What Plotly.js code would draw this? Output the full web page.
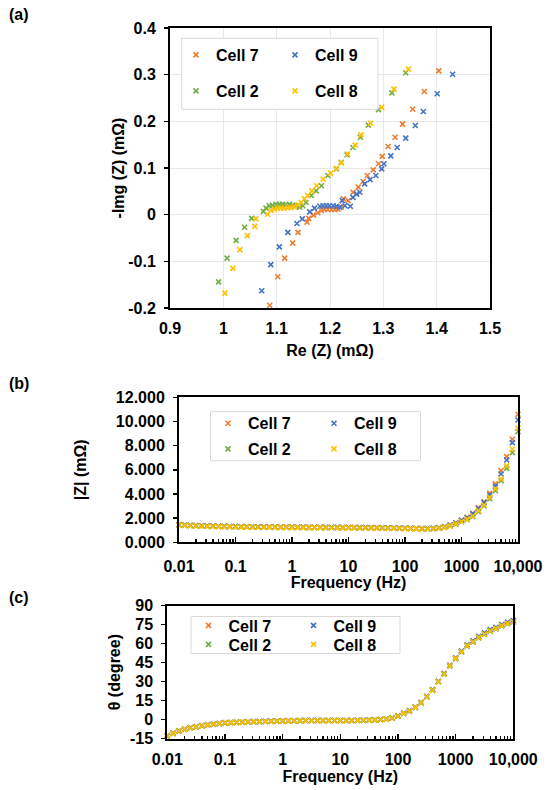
<!DOCTYPE html>
<html>
<head>
<meta charset="utf-8">
<script src="https://cdn.plot.ly/plotly-3.0.1.min.js"></script>
<style>html,body{margin:0;padding:0;background:#fff;}#chart{width:550px;height:790px;}</style>
</head>
<body>
<div id="chart"></div>
<script>
// ---------- DATA ----------
const cellNames = ["Cell 7", "Cell 9", "Cell 2", "Cell 8"];
const cellColors = ["#ED7D31", "#4472C4", "#70AD47", "#FFC000"];

// (a) Nyquist
const re7 = [1.087,1.102,1.115,1.130,1.140,1.157,1.160,1.169,1.177,1.184,1.190,1.196,1.203,1.209,1.215,1.221,1.225,1.234,1.243,1.253,1.262,1.270,1.281,1.291,1.298,1.309,1.322,1.336,1.355,1.377,1.404];
const im7 = [-0.194,-0.133,-0.093,-0.061,-0.038,-0.016,-0.008,-0.001,0.004,0.009,0.011,0.011,0.011,0.011,0.012,0.016,0.034,0.030,0.048,0.059,0.071,0.084,0.096,0.109,0.125,0.146,0.166,0.194,0.226,0.264,0.308];
const re9 = [1.072,1.089,1.105,1.121,1.138,1.148,1.162,1.171,1.181,1.187,1.193,1.199,1.206,1.212,1.218,1.223,1.228,1.238,1.243,1.250,1.256,1.265,1.275,1.286,1.297,1.301,1.314,1.326,1.342,1.360,1.375,1.401,1.430];
const im9 = [-0.163,-0.107,-0.069,-0.038,-0.019,-0.009,0.006,0.014,0.018,0.019,0.019,0.019,0.019,0.018,0.016,0.030,0.019,0.018,0.037,0.044,0.048,0.066,0.075,0.084,0.098,0.109,0.126,0.144,0.164,0.191,0.221,0.259,0.301];
const re2 = [0.991,1.007,1.024,1.040,1.053,1.075,1.080,1.086,1.092,1.099,1.105,1.111,1.117,1.124,1.130,1.136,1.143,1.149,1.155,1.165,1.174,1.184,1.196,1.212,1.221,1.232,1.243,1.257,1.272,1.291,1.316,1.342];
const im2 = [-0.144,-0.093,-0.055,-0.027,-0.008,0.007,0.014,0.019,0.020,0.022,0.022,0.022,0.021,0.022,0.020,0.019,0.016,0.019,0.026,0.041,0.051,0.062,0.084,0.098,0.112,0.128,0.144,0.166,0.192,0.225,0.261,0.304];
const re8 = [1.003,1.018,1.031,1.045,1.059,1.061,1.083,1.089,1.096,1.102,1.108,1.114,1.121,1.127,1.133,1.140,1.146,1.152,1.158,1.166,1.175,1.187,1.201,1.212,1.221,1.233,1.247,1.258,1.276,1.297,1.320,1.347];
const im8 = [-0.168,-0.115,-0.075,-0.045,-0.025,-0.009,0.001,0.009,0.012,0.014,0.014,0.014,0.015,0.015,0.017,0.021,0.026,0.034,0.041,0.051,0.062,0.076,0.089,0.099,0.111,0.130,0.149,0.171,0.196,0.230,0.269,0.312];

// (b), (c) frequency (Hz)
const freq = [0.01,0.0126,0.0158,0.02,0.0251,0.0316,0.0398,0.0501,0.0631,0.0794,
  0.1,0.126,0.158,0.2,0.251,0.316,0.398,0.501,0.631,0.794,
  1,1.26,1.58,2,2.51,3.16,3.98,5.01,6.31,7.94,
  10,12.6,15.8,20,25.1,31.6,39.8,50.1,63.1,79.4,
  100,126,158,200,251,316,398,501,631,794,
  1000,1259,1585,1995,2512,3162,3981,5012,6310,7943,10000];

// |Z| (mΩ)
const z7 = [1.46,1.43,1.41,1.39,1.37,1.36,1.35,1.34,1.33,1.32,
  1.31,1.30,1.30,1.29,1.29,1.28,1.28,1.27,1.27,1.27,
  1.26,1.26,1.26,1.25,1.25,1.25,1.24,1.24,1.24,1.23,
  1.23,1.23,1.22,1.22,1.21,1.21,1.20,1.20,1.19,1.18,
  1.17,1.16,1.15,1.14,1.14,1.16,1.21,1.29,1.43,1.62,
  1.85,2.07,2.40,2.87,3.36,4.05,4.83,5.93,7.09,8.53,10.60];
const z9 = [1.45,1.42,1.40,1.38,1.36,1.35,1.34,1.33,1.32,1.31,
  1.30,1.29,1.29,1.28,1.28,1.27,1.27,1.26,1.26,1.26,
  1.25,1.25,1.25,1.24,1.24,1.24,1.23,1.23,1.23,1.22,
  1.22,1.22,1.21,1.21,1.20,1.20,1.19,1.19,1.18,1.17,
  1.16,1.15,1.14,1.13,1.13,1.15,1.20,1.28,1.42,1.60,
  1.82,2.03,2.35,2.80,3.28,3.91,4.66,5.65,6.81,8.25,10.12];
const z2 = [1.43,1.40,1.38,1.36,1.34,1.33,1.32,1.31,1.30,1.29,
  1.28,1.27,1.27,1.26,1.26,1.25,1.25,1.24,1.24,1.24,
  1.23,1.23,1.23,1.22,1.22,1.22,1.21,1.21,1.21,1.20,
  1.20,1.20,1.19,1.19,1.18,1.18,1.17,1.17,1.16,1.15,
  1.14,1.13,1.12,1.11,1.11,1.11,1.16,1.23,1.35,1.50,
  1.70,1.88,2.12,2.53,3.00,3.58,4.27,5.10,6.12,7.42,9.16];
const z8 = [1.42,1.39,1.37,1.35,1.33,1.32,1.31,1.30,1.29,1.28,
  1.27,1.26,1.26,1.25,1.25,1.24,1.24,1.23,1.23,1.23,
  1.22,1.22,1.22,1.21,1.21,1.21,1.20,1.20,1.20,1.19,
  1.19,1.19,1.18,1.18,1.17,1.17,1.16,1.16,1.15,1.14,
  1.13,1.12,1.11,1.10,1.10,1.12,1.17,1.24,1.36,1.52,
  1.72,1.92,2.18,2.62,3.09,3.72,4.41,5.24,6.32,7.70,9.43];

// θ (degree)
const t7 = [-12.9,-11.0,-9.2,-7.8,-6.6,-5.8,-5.0,-4.3,-3.7,-3.2,
  -2.8,-2.5,-2.3,-2.1,-1.9,-1.8,-1.7,-1.6,-1.5,-1.4,
  -1.3,-1.2,-1.1,-1.0,-0.9,-0.9,-0.9,-0.9,-0.9,-0.9,
  -0.9,-0.9,-0.9,-0.8,-0.7,-0.6,-0.4,-0.1,0.4,1.2,
  2.9,5.0,6.8,9.8,13.5,18.2,23.5,30.1,36.3,42.8,
  48.6,53.9,58.8,61.9,65.4,68.1,70.7,72.6,74.7,76.5,77.8];
const t9 = [-12.6,-10.7,-8.9,-7.5,-6.3,-5.5,-4.7,-4.0,-3.4,-2.9,
  -2.5,-2.2,-2.0,-1.8,-1.6,-1.5,-1.4,-1.3,-1.2,-1.1,
  -1.0,-0.9,-0.8,-0.7,-0.6,-0.6,-0.6,-0.6,-0.6,-0.6,
  -0.6,-0.6,-0.6,-0.5,-0.4,-0.3,-0.1,0.2,0.6,1.4,
  3.0,5.1,7.0,9.9,13.6,18.3,23.6,30.3,36.4,42.9,
  48.8,54.1,59.0,62.2,65.8,68.5,71.1,73.0,75.1,76.9,78.2];
const t2 = [-13.0,-11.1,-9.3,-7.9,-6.7,-5.9,-5.1,-4.4,-3.8,-3.3,
  -2.9,-2.6,-2.4,-2.2,-2.0,-1.9,-1.8,-1.7,-1.6,-1.5,
  -1.4,-1.3,-1.2,-1.1,-1.0,-1.0,-1.0,-1.0,-1.0,-1.0,
  -1.0,-1.0,-1.0,-0.9,-0.8,-0.7,-0.5,-0.2,0.2,1.0,
  2.6,4.7,6.5,9.4,13.1,17.8,23.1,29.7,35.8,42.2,
  48.0,53.2,58.0,61.1,64.6,67.2,69.8,71.7,73.8,75.6,76.9];
const t8 = [-12.8,-10.9,-9.1,-7.7,-6.5,-5.7,-4.9,-4.2,-3.6,-3.1,
  -2.7,-2.4,-2.2,-2.0,-1.8,-1.7,-1.6,-1.5,-1.4,-1.3,
  -1.2,-1.1,-1.0,-0.9,-0.8,-0.8,-0.8,-0.8,-0.8,-0.8,
  -0.8,-0.8,-0.8,-0.7,-0.6,-0.5,-0.3,0.0,0.4,1.2,
  2.8,4.9,6.7,9.6,13.3,18.0,23.3,29.9,36.0,42.5,
  48.4,53.6,58.4,61.5,65.0,67.6,70.2,72.1,74.2,76.0,77.3];

// tick labels
const aXTicks = [0.9, 1.0, 1.1, 1.2, 1.3, 1.4, 1.5];
const aXLabels = ["0.9", "1", "1.1", "1.2", "1.3", "1.4", "1.5"];
const aYTicks = [-0.2, -0.1, 0, 0.1, 0.2, 0.3, 0.4];
const aYLabels = ["-0.2", "-0.1", "0", "0.1", "0.2", "0.3", "0.4"];
const fTicks = [0.01, 0.1, 1, 10, 100, 1000, 10000];
const fLabels = ["0.01", "0.1", "1", "10", "100", "1000", "10,000"];
const bYTicks = [0, 2, 4, 6, 8, 10, 12];
const bYLabels = ["0.000", "2.000", "4.000", "6.000", "8.000", "10.000", "12.000"];
const cYTicks = [-15, 0, 15, 30, 45, 60, 75, 90];
const cYLabels = ["-15", "0", "15", "30", "45", "60", "75", "90"];

// ---------- PLOT ----------
const FONT = "Liberation Sans, Arial, Helvetica, sans-serif";
const bold = (s) => ({family: FONT, size: s, color: "#000", weight: "bold"});

const nyq = [[re7, im7], [re9, im9], [re2, im2], [re8, im8]];
const zmag = [z7, z9, z2, z8];
const theta = [t7, t9, t2, t8];
const traces = [];
const legA = ["legend", "legend", "legend2", "legend2"];
const legB = ["legend3", "legend3", "legend4", "legend4"];
const legC = ["legend5", "legend5", "legend6", "legend6"];
function mk(i) {
  return {symbol: "x-thin", size: 5, color: cellColors[i], line: {color: cellColors[i], width: 1.6}};
}
for (let i = 0; i < 4; i++) {
  traces.push({type: "scatter", mode: "markers", name: cellNames[i], x: nyq[i][0], y: nyq[i][1],
    xaxis: "x", yaxis: "y", marker: mk(i), legend: legA[i], cliponaxis: false});
}
for (let i = 0; i < 4; i++) {
  traces.push({type: "scatter", mode: "markers", name: cellNames[i], x: freq, y: zmag[i],
    xaxis: "x2", yaxis: "y2", marker: mk(i), legend: legB[i], cliponaxis: false});
}
for (let i = 0; i < 4; i++) {
  traces.push({type: "scatter", mode: "markers", name: cellNames[i], x: freq, y: theta[i],
    xaxis: "x3", yaxis: "y3", marker: mk(i), legend: legC[i], cliponaxis: false});
}

const W = 550, H = 790;
const px = (v) => v / W;
const py = (v) => 1 - v / H;

const baseAxis = {
  showline: true, linecolor: "#000", linewidth: 2, mirror: true, zeroline: false,
  tickfont: bold(16), tickcolor: "#000"
};
const logX = (dom, anchor, standoff, lblOff) => Object.assign({}, baseAxis, {
  type: "log", domain: dom, anchor: anchor, range: [-2, 4], tickmode: "array", tickvals: fTicks, ticktext: fLabels,
  ticks: "inside", ticklen: 5, tickwidth: 1.5, showgrid: false, ticklabelstandoff: lblOff,
  minor: {ticks: "inside", ticklen: 3, tickwidth: 1.2, tickcolor: "#000", dtick: "D1", showgrid: false},
  title: {text: "Frequency (Hz)", font: bold(16), standoff: standoff}
});

function legendAt(x, y, ew) {
  return {orientation: "h", x: x, y: y, xanchor: "left", yanchor: "middle", xref: "paper", yref: "paper",
    bgcolor: "rgba(0,0,0,0)", borderwidth: 0, font: bold(16), entrywidth: ew, entrywidthmode: "pixels",
    itemclick: false, itemdoubleclick: false, tracegroupgap: 0};
}

const layout = {
  width: W, height: H, margin: {l: 0, r: 0, t: 0, b: 0},
  paper_bgcolor: "#fff", plot_bgcolor: "rgba(0,0,0,0)",
  font: bold(16), showlegend: true,
  xaxis: Object.assign({}, baseAxis, {
    domain: [px(170), px(490)], anchor: "y", range: [0.9, 1.5], tickmode: "array", tickvals: aXTicks, ticktext: aXLabels,
    ticks: "", showgrid: true, gridcolor: "#e8e8e8", gridwidth: 1, ticklabelstandoff: 5,
    title: {text: "Re (Z) (mΩ)", font: bold(16), standoff: 9}
  }),
  yaxis: Object.assign({}, baseAxis, {
    domain: [py(308), py(28)], anchor: "x", range: [-0.2, 0.4], tickmode: "array", tickvals: aYTicks, ticktext: aYLabels,
    ticks: "outside", ticklen: 4, tickwidth: 1.5, showgrid: true, gridcolor: "#e8e8e8", gridwidth: 1, ticklabelstandoff: 5,
    title: {text: "-Img (Z) (mΩ)", font: bold(16), standoff: 0}
  }),
  xaxis2: logX([px(179), px(518)], "y2", 0, 8),
  yaxis2: Object.assign({}, baseAxis, {
    domain: [py(542.3), py(397.3)], anchor: "x2", range: [0, 12], tickmode: "array", tickvals: bYTicks, ticktext: bYLabels,
    ticks: "outside", ticklen: 4, tickwidth: 1.5, showgrid: false, ticklabelstandoff: 5,
    title: {text: "|Z| (mΩ)", font: bold(16), standoff: 25}
  }),
  xaxis3: logX([px(167.3), px(513.3)], "y3", 0, 5),
  yaxis3: Object.assign({}, baseAxis, {
    domain: [py(738.5), py(605.7)], anchor: "x3", range: [-15, 90], tickmode: "array", tickvals: cYTicks, ticktext: cYLabels,
    ticks: "outside", ticklen: 4, tickwidth: 1.5, showgrid: false, ticklabelstandoff: 5,
    title: {text: "θ (degree)", font: bold(16), standoff: 5}
  }),
  legend: legendAt(px(176), py(55), 54),
  legend2: legendAt(px(176), py(91), 54),
  legend3: legendAt(px(208), py(423.3), 61),
  legend4: legendAt(px(208), py(449), 61),
  legend5: legendAt(px(188.5), py(625.5), 60),
  legend6: legendAt(px(188.5), py(644.5), 60),
  shapes: [
    {type: "rect", xref: "paper", yref: "paper", x0: px(181.7), x1: px(378), y0: py(109.3), y1: py(38.3),
      fillcolor: "#fff", line: {color: "#d9d9d9", width: 1}, layer: "above"},
    {type: "rect", xref: "paper", yref: "paper", x0: px(210.5), x1: px(420.5), y0: py(460.7), y1: py(411.7),
      fillcolor: "#fff", line: {color: "#d9d9d9", width: 1}, layer: "above"},
    {type: "rect", xref: "paper", yref: "paper", x0: px(191), x1: px(400), y0: py(653.5), y1: py(616.5),
      fillcolor: "#fff", line: {color: "#d9d9d9", width: 1}, layer: "above"}
  ],
  annotations: [
    {text: "(a)", xref: "paper", yref: "paper", x: px(7), y: py(15), xanchor: "left", yanchor: "middle", showarrow: false, font: bold(16)},
    {text: "(b)", xref: "paper", yref: "paper", x: px(7), y: py(384), xanchor: "left", yanchor: "middle", showarrow: false, font: bold(16)},
    {text: "(c)", xref: "paper", yref: "paper", x: px(7), y: py(597), xanchor: "left", yanchor: "middle", showarrow: false, font: bold(16)}
  ]
};

Plotly.newPlot("chart", traces, layout, {staticPlot: true, displayModeBar: false});
</script>
</body>
</html>
